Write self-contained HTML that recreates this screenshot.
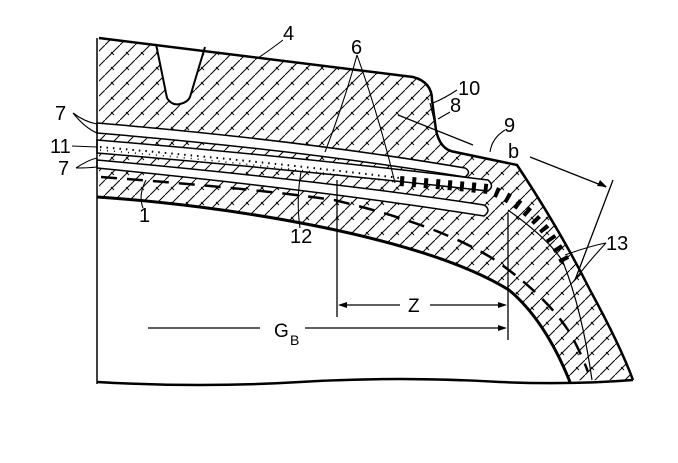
<!DOCTYPE html>
<html><head><meta charset="utf-8"><style>
html,body{margin:0;padding:0;background:#fff;}
svg{display:block}
text{font-family:"Liberation Sans",sans-serif;fill:#000}
</style></head><body>
<svg width="678" height="463" viewBox="0 0 678 463" xmlns="http://www.w3.org/2000/svg">
<defs>
<pattern id="h" width="15" height="15" patternUnits="userSpaceOnUse">
<path d="M-1,16 L16,-1" stroke="#000" stroke-width="1"/>
<path d="M6,7 L9,10" stroke="#000" stroke-width="0.9"/>
</pattern>
</defs>
<path d="M99,38 L413,77 Q432,82 432,100 L436,130 Q440,150 455,152 L517,165 Q560,230 590,290 Q620,345 633,380 L99,382 Z" fill="url(#h)"/>
<path d="M97,197 C220,205 420,235 509,290 Q545,320 570,382 L97,384 Z" fill="#fff"/>
<path d="M153,40 L156,44 L167,98 Q172,106 180,104 Q188,102 190,97 L205,47 L208,40 Z" fill="#fff"/>
<path d="M156,44 L167,98 Q172,106 180,104 Q188,102 190,97 L205,47" fill="none" stroke="#000" stroke-width="2"/>
<path d="M97,123 Q300,140 465,168 Q472,172 465,177 Q300,150 97,133 Z" fill="#fff" stroke="#000" stroke-width="1.5"/>
<path d="M97,140 Q300,157 488,180 Q495,186 488,191 Q300,170 97,153 Z" fill="#fff" stroke="#000" stroke-width="1.5"/>
<path d="M97,160 Q320,180 484,205 Q492,210 484,216 Q320,190 97,168 Z" fill="#fff" stroke="#000" stroke-width="1.5"/>
<path d="M100,147 Q250,160 400,178" fill="none" stroke="#000" stroke-width="2" stroke-dasharray="1.5 5"/>
<path d="M100,150 Q250,163 395,182" fill="none" stroke="#000" stroke-width="1.5" stroke-dasharray="1 6"/>
<path d="M400,181 Q450,185 488,189 Q520,200 545,230 Q560,250 565,262" fill="none" stroke="#000" stroke-width="10" stroke-dasharray="4 8"/>
<path d="M99,38 L413,77 Q432,82 432,100 L436,130 Q440,150 455,152 L517,165 Q560,230 590,290 Q620,345 633,380" fill="none" stroke="#000" stroke-width="2.5"/>
<path d="M97,38 L97,384" stroke="#000" stroke-width="1.5"/>
<path d="M97,382 Q200,388 300,382 Q400,376 500,382 Q570,385 633,380" fill="none" stroke="#000" stroke-width="2.5"/>
<path d="M97,197 C220,205 420,235 509,290 Q545,320 570,382" fill="none" stroke="#000" stroke-width="3"/>
<path d="M508,210 Q550,240 563,262 Q582,310 592,380" fill="none" stroke="#000" stroke-width="1.2"/>
<path d="M101,177 Q250,188 334,200 Q440,225 495,260 Q545,295 568,330 Q580,350 588,372" fill="none" stroke="#000" stroke-width="2.5" stroke-dasharray="16 10"/>
<path d="M337,180 L337,317 M508,213 L508,340" stroke="#000" stroke-width="1.3"/>
<path d="M340,305 L400,305 M430,305 L505,305 M148,328 L260,328 M305,328 L505,328" stroke="#000" stroke-width="1.3"/>
<path d="M338,305 l9,-3 v6 z M507,305 l-9,-3 v6 z M507,328 l-9,-3 v6 z" fill="#000"/>
<text x="408" y="312" font-size="19">Z</text>
<text x="274" y="337" font-size="19">G</text><text x="290" y="345" font-size="14">B</text>
<path d="M398,115 L473,145 M530,157 L606,187 M613,180 L575,280" stroke="#000" stroke-width="1.3"/>
<path d="M607,187 l-10,-1 l3,-6 z" fill="#000"/>
<path d="M430,103 L436,128" stroke="#000" stroke-width="1.2"/>
<g fill="none" stroke="#000" stroke-width="1.1">
<path d="M283,40 Q270,50 258,58"/>
<path d="M357,55 Q345,100 325,152 M357,55 Q380,120 395,183"/>
<path d="M457,90 Q445,98 433,103"/>
<path d="M450,112 L438,119"/>
<path d="M505,130 Q492,138 490,152"/>
<path d="M73,113 Q85,122 97,124 M73,113 Q85,128 97,133"/>
<path d="M72,146 L97,147"/>
<path d="M76,168 Q88,160 97,158 M76,168 Q88,168 97,167"/>
<path d="M143,208 Q138,195 146,180"/>
<path d="M300,228 Q296,200 301,172"/>
<path d="M606,243 Q590,246 565,255 M606,243 Q590,260 573,282"/>
</g>
<g font-size="20">
<text x="283" y="40">4</text>
<text x="351" y="54">6</text>
<text x="458" y="95">10</text>
<text x="450" y="112">8</text>
<text x="504" y="132">9</text>
<text x="508" y="158">b</text>
<text x="55" y="120">7</text>
<text x="50" y="153">11</text>
<text x="58" y="175">7</text>
<text x="139" y="222">1</text>
<text x="290" y="243">12</text>
<text x="606" y="250">13</text>
</g>
</svg>
</body></html>
